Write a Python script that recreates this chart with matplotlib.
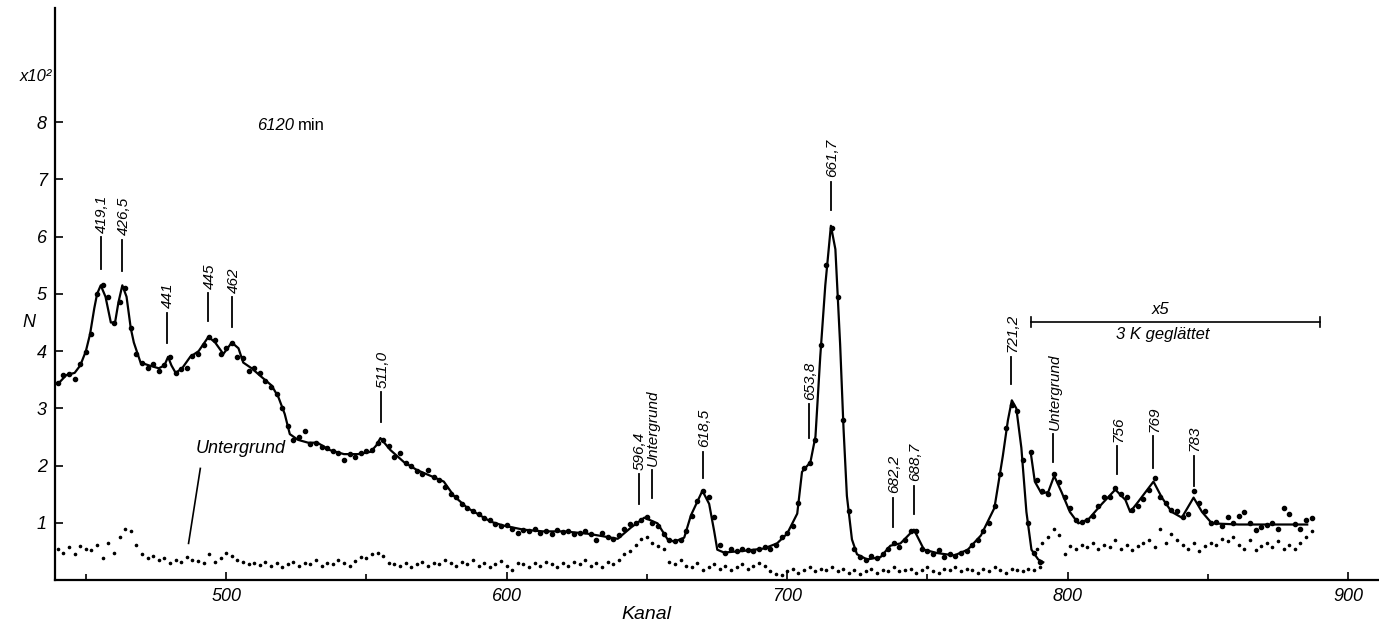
import matplotlib
matplotlib.use("Agg")
import matplotlib.pyplot as plt
import matplotlib.transforms as mtransforms
import numpy as np

plt.rcParams['font.family'] = ['Liberation Sans Narrow', 'Liberation Sans', 'DejaVu Sans']

# smooth curve through the measured spectrum (Kanal, N/100)
curve_ch = [440.5, 443, 446, 448, 450, 451.5, 453, 454, 455.3, 457, 458.9, 460.4, 461.6, 463, 464.5,
            466, 467.1, 469.5, 472.5, 476, 478, 479.3, 480.5, 482, 484.3, 487.2, 490.2, 493.7, 496.1,
            499, 502, 504.4, 506.1, 509.1, 512.6, 516.2, 518.6, 520.9, 522.7, 525.6, 529.2, 532.5,
            537, 542, 547, 551.5, 553.5, 555, 558.6, 563.4, 568.1, 572.9, 577.6, 581.2, 586, 589.5,
            594.3, 599, 606, 613, 620.5, 628.8, 632.5, 639.6, 644.4, 649.1, 653.8, 657.4, 659.8,
            663.3, 665.7, 669.8, 672.2, 674, 675.1, 677.5, 684.6, 691.7, 696.4, 700, 703.6, 705.3,
            708.3, 710.1, 711.8, 713.6, 715.6, 717.2, 718.9, 720.1, 721.3, 723.1, 724.9, 728.5,
            733.3, 736.8, 740.4, 745.2, 748.8, 753.6, 759.6, 764.4, 769.1, 773.9, 776.9, 778.7,
            780.1, 781.7, 783.5, 785.3, 787.1, 789.5, 791.3]
curve_n = [3.45, 3.58, 3.62, 3.75, 4.0, 4.3, 4.75, 5.0, 5.15, 4.95, 4.5, 4.5, 4.85, 5.15, 4.95,
           4.4, 4.15, 3.8, 3.75, 3.7, 3.75, 3.9, 3.75, 3.62, 3.7, 3.9, 4.0, 4.25, 4.15,
           3.95, 4.15, 4.05, 3.8, 3.7, 3.55, 3.4, 3.2, 2.9, 2.55, 2.45, 2.4, 2.4,
           2.27, 2.2, 2.2, 2.24, 2.35, 2.48, 2.27, 2.06, 1.92, 1.82, 1.72, 1.47, 1.26, 1.16,
           1.02, 0.95, 0.88, 0.85, 0.85, 0.81, 0.78, 0.72, 0.92, 1.09, 0.99, 0.71, 0.67,
           0.74, 1.13, 1.56, 1.33, 0.85, 0.53, 0.48, 0.51, 0.55, 0.64, 0.81, 1.16, 1.89,
           2.06, 2.51, 3.9, 5.15, 6.19, 5.78, 4.11, 2.65, 1.47, 0.71, 0.45, 0.36,
           0.40, 0.60, 0.64, 0.88, 0.53, 0.47, 0.43, 0.53, 0.78, 1.26, 2.17, 2.79,
           3.14, 3.0, 2.31, 1.19, 0.53, 0.36, 0.31]

# x5 enlarged, 3-channel smoothed part
curve5_ch = [786.8, 788.3, 790.7, 793.1, 795.2, 797.8, 800.8, 803.8, 807.4, 812.2, 817, 820.6,
             822.3, 825.2, 830.6, 833.6, 837.1, 840.7, 844.9, 847.9, 851.4, 861, 872.9, 885.4]
curve5_n = [2.24, 1.72, 1.51, 1.54, 1.82, 1.54, 1.19, 0.99, 1.06, 1.33, 1.58, 1.40,
            1.19, 1.37, 1.72, 1.44, 1.19, 1.09, 1.44, 1.19, 0.99, 0.97, 0.97, 0.97]

# measured points
dots_ch = list(range(440, 792, 2))
dots_n = [3.45, 3.58, 3.60, 3.52, 3.78, 3.98, 4.30, 5.00, 5.15, 4.95, 4.50, 4.85, 5.10, 4.40, 3.95,
          3.80, 3.70, 3.78, 3.65, 3.75, 3.90, 3.62, 3.68, 3.70, 3.92, 3.95, 4.10, 4.25, 4.20, 3.95,
          4.05, 4.15, 3.90, 3.88, 3.65, 3.70, 3.62, 3.48, 3.38, 3.25, 3.00, 2.70, 2.45, 2.50, 2.60,
          2.38, 2.40, 2.33, 2.30, 2.25, 2.22, 2.10, 2.20, 2.15, 2.22, 2.25, 2.28, 2.40, 2.45, 2.35,
          2.15, 2.22, 2.05, 2.00, 1.90, 1.85, 1.92, 1.80, 1.75, 1.62, 1.50, 1.45, 1.32, 1.25, 1.20,
          1.15, 1.08, 1.05, 0.98, 0.95, 0.97, 0.90, 0.82, 0.88, 0.85, 0.90, 0.82, 0.86, 0.80, 0.88,
          0.84, 0.86, 0.80, 0.82, 0.85, 0.80, 0.70, 0.82, 0.75, 0.72, 0.78, 0.90, 0.98, 1.00, 1.05,
          1.10, 1.00, 0.95, 0.80, 0.70, 0.68, 0.70, 0.85, 1.12, 1.38, 1.55, 1.45, 1.10, 0.62, 0.48,
          0.55, 0.50, 0.55, 0.52, 0.50, 0.55, 0.58, 0.55, 0.62, 0.75, 0.82, 0.95, 1.35, 1.95, 2.05,
          2.45, 4.10, 5.50, 6.15, 4.95, 2.80, 1.20, 0.55, 0.40, 0.35, 0.42, 0.38, 0.45, 0.55, 0.65,
          0.58, 0.70, 0.85, 0.85, 0.55, 0.50, 0.45, 0.52, 0.40, 0.45, 0.42, 0.48, 0.50, 0.62, 0.70,
          0.85, 1.00, 1.30, 1.85, 2.65, 3.05, 2.95, 2.10, 1.00, 0.48, 0.32]

dots5_ch = list(range(787, 889, 2))
dots5_n = [2.24, 1.75, 1.55, 1.50, 1.85, 1.72, 1.45, 1.25, 1.05, 1.02, 1.05, 1.12, 1.30, 1.45,
           1.45, 1.60, 1.50, 1.45, 1.22, 1.30, 1.42, 1.58, 1.78, 1.45, 1.35, 1.22, 1.20, 1.10,
           1.15, 1.55, 1.35, 1.20, 1.00, 1.02, 0.95, 1.10, 1.00, 1.12, 1.18, 1.00, 0.88, 0.92,
           0.97, 1.00, 0.90, 1.25, 1.15, 0.98, 0.90, 1.05, 1.08]

# Untergrund (background)
bg_ch = list(range(440, 792, 2))
bg_n = [0.55, 0.48, 0.58, 0.46, 0.60, 0.55, 0.52, 0.62, 0.38, 0.65, 0.48, 0.75, 0.90, 0.85, 0.62,
        0.45, 0.38, 0.42, 0.35, 0.38, 0.30, 0.35, 0.32, 0.40, 0.35, 0.33, 0.30, 0.45, 0.32, 0.38,
        0.48, 0.42, 0.35, 0.32, 0.28, 0.30, 0.27, 0.32, 0.25, 0.30, 0.22, 0.28, 0.32, 0.25, 0.30,
        0.28, 0.35, 0.25, 0.30, 0.28, 0.35, 0.30, 0.25, 0.33, 0.40, 0.38, 0.45, 0.48, 0.42, 0.30,
        0.28, 0.25, 0.30, 0.22, 0.28, 0.32, 0.25, 0.30, 0.28, 0.35, 0.30, 0.25, 0.32, 0.28, 0.35,
        0.25, 0.30, 0.22, 0.28, 0.33, 0.25, 0.18, 0.30, 0.28, 0.22, 0.30, 0.25, 0.32, 0.28, 0.22,
        0.30, 0.25, 0.32, 0.28, 0.35, 0.25, 0.30, 0.22, 0.32, 0.28, 0.35, 0.45, 0.50, 0.62, 0.72,
        0.75, 0.65, 0.60, 0.55, 0.32, 0.28, 0.35, 0.25, 0.22, 0.30, 0.18, 0.22, 0.28, 0.20, 0.25,
        0.18, 0.22, 0.28, 0.20, 0.25, 0.30, 0.25, 0.15, 0.10, 0.08, 0.15, 0.20, 0.12, 0.18, 0.22,
        0.15, 0.20, 0.18, 0.22, 0.15, 0.20, 0.12, 0.18, 0.10, 0.15, 0.20, 0.12, 0.18, 0.15, 0.22,
        0.15, 0.18, 0.20, 0.12, 0.18, 0.22, 0.15, 0.12, 0.20, 0.18, 0.22, 0.15, 0.20, 0.18, 0.12,
        0.20, 0.15, 0.22, 0.18, 0.12, 0.20, 0.18, 0.15, 0.20, 0.18, 0.22]

bg5_ch = list(range(789, 889, 2))
bg5_n = [0.55, 0.65, 0.75, 0.90, 0.78, 0.45, 0.60, 0.55, 0.62, 0.58, 0.65, 0.55, 0.62, 0.58,
         0.70, 0.55, 0.62, 0.52, 0.60, 0.65, 0.70, 0.58, 0.90, 0.65, 0.80, 0.70, 0.62, 0.55,
         0.65, 0.50, 0.60, 0.65, 0.62, 0.72, 0.68, 0.75, 0.62, 0.55, 0.70, 0.52, 0.60, 0.65,
         0.58, 0.68, 0.55, 0.62, 0.55, 0.65, 0.75, 0.85]

# peak labels: text, channel, bottom / top of the marker line
peak_labels = ['419,1', '426,5', '441', '445', '462', '511,0', '596,4', 'Untergrund', '618,5',
               '653,8', '661,7', '682,2', '688,7', '721,2', 'Untergrund', '756', '769', '783']
peak_ch = [455.3, 463.0, 479.0, 493.7, 502.2, 555.3, 647.1, 651.7, 669.9,
           707.9, 715.6, 737.7, 745.2, 779.9, 794.9, 817.6, 830.6, 844.9]
peak_lo = [5.43, 5.40, 4.15, 4.53, 4.42, 2.76, 1.33, 1.44, 1.78,
           2.48, 6.47, 0.92, 1.16, 3.42, 2.06, 1.85, 1.96, 1.65]
peak_hi = [5.99, 5.95, 4.67, 5.01, 4.94, 3.28, 1.85, 1.92, 2.24,
           3.07, 6.96, 1.44, 1.65, 3.90, 2.55, 2.34, 2.51, 2.17]

x_major = [500, 600, 700, 800, 900]
x_minor = [450, 550, 650, 750, 850]
y_ticks = [1, 2, 3, 4, 5, 6, 7, 8]

fig = plt.figure(figsize=(13.79, 6.22), dpi=100)
ax = fig.add_axes([0.0399, 0.0675, 0.9601, 0.92])
ax.set_xlim(439, 911)
ax.set_ylim(0, 10)

for side in ['top', 'right']:
    ax.spines[side].set_visible(False)
for side in ['left', 'bottom']:
    ax.spines[side].set_linewidth(1.6)

ax.plot(curve_ch, curve_n, color='black', lw=1.6, zorder=3)
ax.plot(curve5_ch, curve5_n, color='black', lw=1.6, zorder=3)
ax.plot(dots_ch, dots_n, 'o', color='black', ms=3.0, zorder=4)
ax.plot(dots5_ch, dots5_n, 'o', color='black', ms=3.0, zorder=4)
ax.plot(bg_ch, bg_n, 'o', color='black', ms=1.6, zorder=2)
ax.plot(bg5_ch, bg5_n, 'o', color='black', ms=1.6, zorder=2)

# peak markers
for lab, c, lo, hi in zip(peak_labels, peak_ch, peak_lo, peak_hi):
    ax.plot([c, c], [lo, hi], color='black', lw=1.3)
    ax.text(c + 0.4, hi + 0.08, lab, rotation=90, ha='center', va='bottom',
            fontsize=11, style='italic')

# x5 bar
ax.plot([786.8, 890.1], [4.51, 4.51], color='black', lw=1.2)
ax.plot([786.8, 786.8], [4.43, 4.59], color='black', lw=1.2)
ax.plot([890.1, 890.1], [4.43, 4.59], color='black', lw=1.2)
ax.text(833, 4.6, 'x5', ha='center', va='bottom', fontsize=12, style='italic')
ax.text(834, 4.42, '3 K geglättet', ha='center', va='top', fontsize=12, style='italic')

# background label
ax.text(489, 2.3, 'Untergrund', ha='left', va='center', fontsize=13, style='italic')
ax.plot([490.8, 486.6], [1.95, 0.64], color='black', lw=1.2)

# measuring time
t_time = ax.text(511, 7.94, '6120', ha='left', va='center', fontsize=12, style='italic')
ax.annotate('min', xy=(1, 0.5), xycoords=t_time, xytext=(3, 0), textcoords='offset points',
            ha='left', va='center', fontsize=12)

# ticks
ax.set_xticks(x_major)
ax.set_xticks(x_minor, minor=True)
ax.set_xticklabels([str(v) for v in x_major], fontsize=13, style='italic')
ax.set_yticks(y_ticks)
ax.set_yticklabels([str(v) for v in y_ticks], fontsize=13, style='italic')
ax.tick_params(axis='both', which='major', direction='in', length=6, width=1.2, pad=6)
ax.tick_params(axis='x', which='minor', direction='in', length=4, width=1.2)

ax.set_xlabel('Kanal', fontsize=14, style='italic', labelpad=-2)
ax.xaxis.set_label_coords((650 - 439) / (911 - 439), -0.045)

trans = mtransforms.blended_transform_factory(ax.transAxes, ax.transData)
ax.text(-0.02, 4.5, 'N', transform=trans, ha='center', va='center', fontsize=13, style='italic')
ax.text(-0.002, 8.8, 'x10²', transform=trans, ha='right', va='center', fontsize=12, style='italic')

fig.savefig('out.png', dpi=100)
